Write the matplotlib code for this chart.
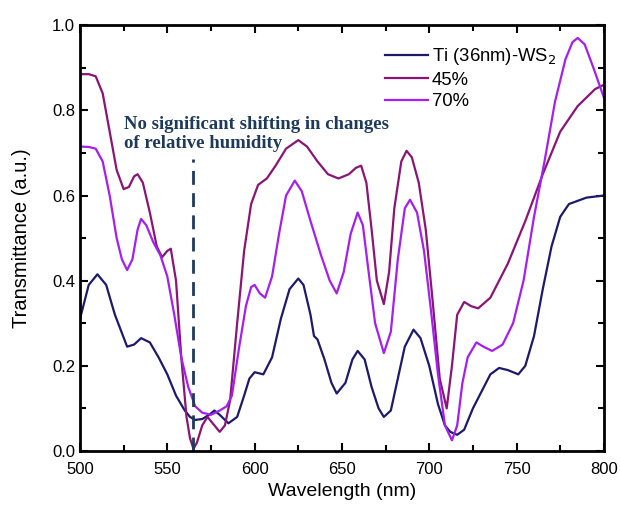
import matplotlib
matplotlib.use("Agg")
import matplotlib.pyplot as plt
from matplotlib.ticker import MultipleLocator

plt.rcParams["font.family"] = ["Liberation Sans", "DejaVu Sans"]

# Ti (36nm)-WS2
wl_ti = [500, 505, 510, 515, 520, 527, 531, 535, 540, 545, 550, 555, 560, 563, 566,
         570, 574, 577, 580, 585, 590, 594, 597, 600, 605, 610, 615, 620, 625, 628,
         632, 634, 636, 640, 644, 647, 652, 656, 659, 663, 667, 671, 674, 678, 682,
         686, 691, 695, 700, 705, 709, 712, 716, 720, 725, 730, 735, 740, 745, 751,
         755, 760, 765, 770, 775, 780, 790, 800]
t_ti = [0.31, 0.39, 0.415, 0.39, 0.32, 0.245, 0.25, 0.265, 0.255, 0.22, 0.18, 0.13, 0.095,
        0.08, 0.073, 0.075, 0.085, 0.095, 0.085, 0.065, 0.08, 0.13, 0.17, 0.185, 0.18,
        0.22, 0.31, 0.38, 0.405, 0.39, 0.32, 0.27, 0.262, 0.215, 0.16, 0.135, 0.16,
        0.215, 0.235, 0.215, 0.15, 0.1, 0.08, 0.095, 0.17, 0.245, 0.285, 0.265, 0.2,
        0.11, 0.06, 0.045, 0.038, 0.05, 0.1, 0.14, 0.18, 0.195, 0.19, 0.18, 0.2, 0.27,
        0.38, 0.48, 0.55, 0.58, 0.595, 0.6]

# 45 % relative humidity
wl_45 = [500, 505, 509, 513, 517, 521, 525, 528, 531, 533, 536, 540, 544, 547, 550, 552,
         555, 558, 561, 563, 565, 567, 570, 573, 576, 580, 583, 586, 590, 594, 598, 602,
         607, 612, 618, 625, 630, 636, 642, 648, 654, 658, 661, 664, 667, 670, 674, 677,
         680, 684, 687, 690, 694, 698, 702, 706, 710, 713, 716, 720, 724, 728, 735, 745,
         755, 765, 775, 785, 795, 800]
t_45 = [0.885, 0.885, 0.88, 0.84, 0.75, 0.66, 0.615, 0.62, 0.645, 0.65, 0.63, 0.56, 0.48,
        0.455, 0.47, 0.475, 0.4, 0.22, 0.08, 0.03, 0.005, 0.02, 0.06, 0.08, 0.065, 0.045,
        0.06, 0.12, 0.3, 0.47, 0.58, 0.625, 0.64, 0.67, 0.71, 0.73, 0.715, 0.68, 0.65,
        0.64, 0.65, 0.665, 0.67, 0.63, 0.52, 0.4, 0.345, 0.42, 0.57, 0.68, 0.705, 0.69,
        0.63, 0.52, 0.35, 0.17, 0.1, 0.2, 0.32, 0.35, 0.34, 0.335, 0.36, 0.44, 0.54, 0.65,
        0.75, 0.81, 0.85, 0.86]

# 70 % relative humidity
wl_70 = [500, 505, 509, 513, 517, 521, 524, 527, 530, 533, 535, 538, 542, 546, 550, 554,
         558, 562, 566, 570, 575, 580, 584, 587, 591, 595, 598, 600, 603, 606, 610, 614,
         618, 623, 627, 632, 638, 643, 647, 651, 655, 659, 662, 665, 669, 674, 678, 682,
         686, 689, 693, 697, 701, 705, 709, 713, 716, 719, 722, 727, 731, 736, 742, 748,
         754, 760, 766, 772, 778, 782, 785, 789, 794, 800]
t_70 = [0.715, 0.714, 0.71, 0.68, 0.6, 0.5, 0.45, 0.425, 0.45, 0.52, 0.545, 0.53, 0.49,
        0.46, 0.41, 0.32, 0.22, 0.15, 0.105, 0.09, 0.085, 0.095, 0.105, 0.13, 0.24,
        0.34, 0.385, 0.39, 0.37, 0.36, 0.41, 0.51, 0.6, 0.635, 0.61, 0.54, 0.46, 0.4,
        0.37, 0.42, 0.51, 0.56, 0.53, 0.43, 0.3, 0.23, 0.28, 0.45, 0.57, 0.59, 0.56,
        0.47, 0.33, 0.18, 0.06, 0.025, 0.06, 0.16, 0.22, 0.255, 0.245, 0.235, 0.25, 0.3,
        0.4, 0.55, 0.68, 0.82, 0.92, 0.96, 0.97, 0.955, 0.9, 0.83]

series = [
    (wl_ti, t_ti, "Ti (36nm)-WS$_2$", "#1c1a6b"),
    (wl_45, t_45, "45%", "#8a1577"),
    (wl_70, t_70, "70%", "#a41ff0"),
]

fig = plt.figure(figsize=(6.2, 5.14), dpi=100)
ax = fig.add_axes([0.129, 0.1226, 0.845, 0.8284])

for wl, t, label, color in series:
    ax.plot(wl, t, color=color, lw=1.6, label=label)

# marker line at 565 nm
ax.plot([565, 565], [0.0, 0.685], color="#1d3a5c", lw=2, ls=(0, (5, 3)))
ax.text(525, 0.744, "No significant shifting in changes\nof relative humidity",
        family=["Liberation Serif", "DejaVu Serif"], fontweight="bold",
        fontsize=13.5, color="#1d3a5c", ha="left", va="center", linespacing=1.2)

ax.set_xlim(500, 800)
ax.set_ylim(0, 1.0)
ax.xaxis.set_major_locator(MultipleLocator(50))
ax.xaxis.set_minor_locator(MultipleLocator(25))
ax.yaxis.set_major_locator(MultipleLocator(0.2))
ax.yaxis.set_minor_locator(MultipleLocator(0.1))
ax.tick_params(which="both", direction="in", top=True, right=True, width=1.5,
               labelsize=12)
ax.tick_params(which="major", length=6)
ax.tick_params(which="minor", length=4)
ax.tick_params(axis="x", pad=8)
for sp in ax.spines.values():
    sp.set_linewidth(2)

ax.set_xlabel("Wavelength (nm)", fontsize=14)
ax.set_ylabel("Transmittance (a.u.)", fontsize=14.5, labelpad=15)

ax.legend(loc="upper right", bbox_to_anchor=(0.94, 0.99), frameon=False,
          fontsize=13.3, handlelength=2.3, handletextpad=0.2, labelspacing=0.25)

fig.savefig("out.png", dpi=100)
